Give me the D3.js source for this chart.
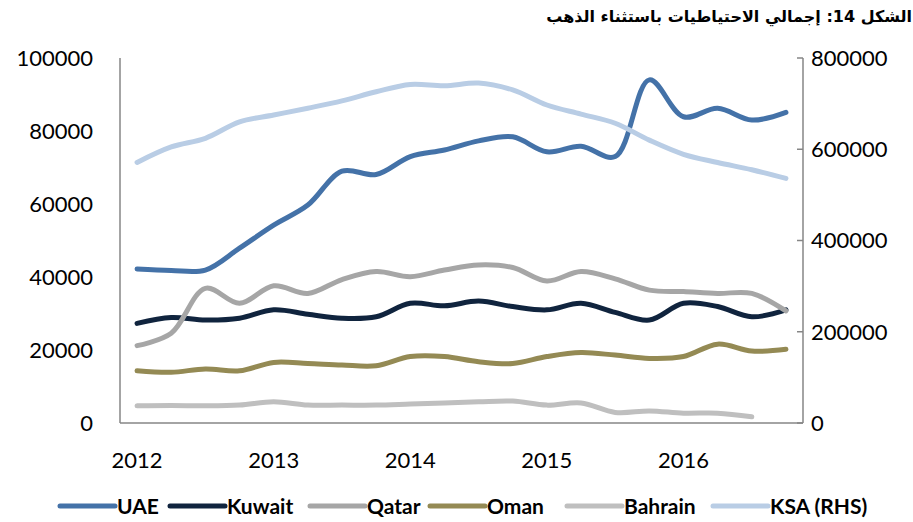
<!DOCTYPE html>
<html>
<head>
<meta charset="utf-8">
<script src="https://cdn.jsdelivr.net/npm/d3@7"></script>
<style>
    body { margin: 0; background: #fff; }
    text { font-family: Lato, "Open Sans", sans-serif; }
</style>
</head>
<body>
<svg width="913" height="522"></svg>
<script>
// quarterly reserves ex gold, 2012 Q1 - 2016 Q4
var quarters = ["2012Q1", "2012Q2", "2012Q3", "2012Q4", "2013Q1", "2013Q2", "2013Q3", "2013Q4",
    "2014Q1", "2014Q2", "2014Q3", "2014Q4", "2015Q1", "2015Q2", "2015Q3", "2015Q4",
    "2016Q1", "2016Q2", "2016Q3", "2016Q4"];
var yearLabels = ["2012", "2013", "2014", "2015", "2016"];
var leftTicks = [0, 20000, 40000, 60000, 80000, 100000];
var rightTicks = [0, 200000, 400000, 600000, 800000];

var uae = [42200, 41800, 41900, 47900, 54200, 59700, 69000, 68100, 73000, 74800,
    77300, 78400, 74300, 75800, 73000, 94000, 83900, 86200, 83000, 85100];
var kuwait = [27300, 28900, 28200, 28700, 31000, 29800, 28700, 29100, 32800, 32100,
    33400, 31900, 31000, 32800, 30300, 28200, 32800, 31900, 29100, 31000];
var qatar = [21200, 24600, 36900, 32800, 37600, 35500, 39300, 41500, 40100, 41900,
    43300, 42600, 38900, 41500, 39500, 36400, 36000, 35500, 35500, 30700];
var oman = [14300, 13900, 14800, 14300, 16600, 16300, 15900, 15700, 18200, 18200,
    16800, 16300, 18200, 19300, 18600, 17700, 18200, 21600, 19700, 20200];
var bahrain = [4700, 4800, 4700, 4900, 5800, 4900, 4900, 4900, 5200, 5500,
    5800, 6000, 4900, 5500, 2900, 3300, 2700, 2700, 1700, null];
var ksa = [571000, 605000, 624000, 660000, 675000, 690000, 706000, 726000, 742000, 739000,
    745000, 730000, 697000, 677000, 657000, 620000, 589000, 571000, 555000, 536000];

var series = [
    {name: "UAE", values: uae, color: "#4472a8", axis: "left"},
    {name: "Kuwait", values: kuwait, color: "#10243e", axis: "left"},
    {name: "Qatar", values: qatar, color: "#a6a6a6", axis: "left"},
    {name: "Oman", values: oman, color: "#948a54", axis: "left"},
    {name: "Bahrain", values: bahrain, color: "#bfbfbf", axis: "left"},
    {name: "KSA (RHS)", values: ksa, color: "#b9cde5", axis: "right"}
];

var svg = d3.select("svg"),
    plotLeft = 120, plotRight = 803, plotTop = 58, plotBottom = 423;

var x = d3.scalePoint().domain(quarters).range([plotLeft, plotRight]).padding(0.5);
var yL = d3.scaleLinear().domain([0, 100000]).range([plotBottom, plotTop]);
var yR = d3.scaleLinear().domain([0, 800000]).range([plotBottom, plotTop]);

// title
svg.append("text")
    .attr("x", 912)
    .attr("y", 22)
    .attr("text-anchor", "end")
    .style("font-family", "'DejaVu Sans', sans-serif")
    .style("font-weight", "bold")
    .style("font-size", "16px")
    .text("الشكل 14: إجمالي الاحتياطيات باستثناء الذهب");

// axes lines
var axisColor = "#868686";
svg.append("line").attr("x1", plotLeft).attr("x2", plotLeft).attr("y1", plotTop).attr("y2", plotBottom)
    .attr("stroke", axisColor).attr("stroke-width", 1.5);
svg.append("line").attr("x1", plotLeft).attr("x2", plotRight).attr("y1", plotBottom).attr("y2", plotBottom)
    .attr("stroke", axisColor).attr("stroke-width", 1.5);
svg.append("line").attr("x1", plotRight).attr("x2", plotRight).attr("y1", plotTop).attr("y2", plotBottom)
    .attr("stroke", axisColor).attr("stroke-width", 1.5);

svg.append("g").selectAll("line")
    .data(rightTicks)
    .enter().append("line")
    .attr("x1", plotRight - 6).attr("x2", plotRight)
    .attr("y1", function(d) { return yR(d); })
    .attr("y2", function(d) { return yR(d); })
    .attr("stroke", axisColor).attr("stroke-width", 1.5);

svg.append("g").selectAll("text")
    .data(leftTicks)
    .enter().append("text")
    .attr("x", 93)
    .attr("y", function(d) { return yL(d); })
    .attr("dy", "0.36em")
    .attr("text-anchor", "end")
    .style("font-size", "22px")
    .text(function(d) { return d; });

svg.append("g").selectAll("text")
    .data(rightTicks)
    .enter().append("text")
    .attr("x", 811)
    .attr("y", function(d) { return yR(d); })
    .attr("dy", "0.36em")
    .style("font-size", "22px")
    .text(function(d) { return d; });

svg.append("g").selectAll("text")
    .data(yearLabels)
    .enter().append("text")
    .attr("x", function(d) { return x(d + "Q1"); })
    .attr("y", 460)
    .attr("dy", "0.36em")
    .attr("text-anchor", "middle")
    .style("font-size", "22px")
    .text(function(d) { return d; });

// lines
svg.append("g").selectAll("path")
    .data(series)
    .enter().append("path")
    .attr("fill", "none")
    .attr("stroke", function(d) { return d.color; })
    .attr("stroke-width", 5)
    .attr("stroke-linecap", "round")
    .attr("stroke-linejoin", "round")
    .attr("d", function(s) {
        var y = s.axis == "left" ? yL : yR;
        return d3.line()
            .defined(function(v) { return v != null; })
            .x(function(v, i) { return x(quarters[i]); })
            .y(function(v) { return y(v); })
            .curve(d3.curveCatmullRom.alpha(0.5))(s.values);
    });

// legend
var legendX = [60, 170, 310, 430, 567, 713];
var legend = svg.append("g").selectAll("g")
    .data(series)
    .enter().append("g")
    .attr("transform", function(d, i) { return "translate(" + legendX[i] + ",506)"; });

legend.append("line")
    .attr("x1", 0).attr("x2", 55)
    .attr("stroke", function(d) { return d.color; })
    .attr("stroke-width", 5)
    .attr("stroke-linecap", "round");

legend.append("text")
    .attr("x", 57)
    .attr("dy", "0.36em")
    .style("font-size", "21px")
    .style("font-weight", "bold")
    .text(function(d) { return d.name; });
</script>
</body>
</html>
